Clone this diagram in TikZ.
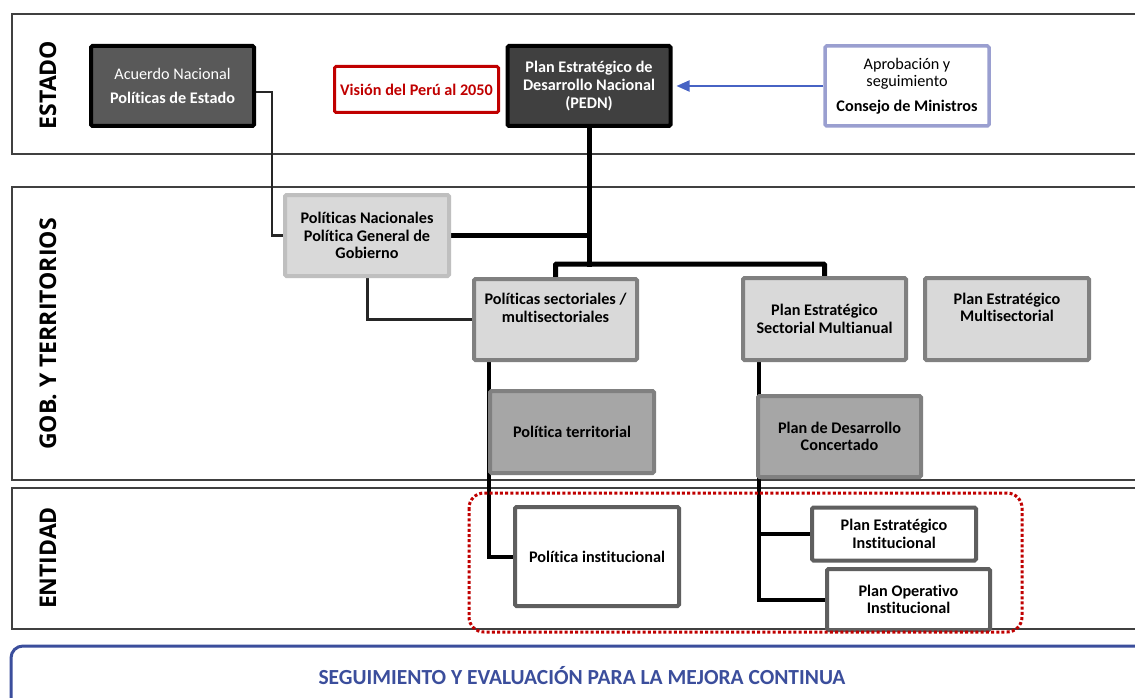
\documentclass[tikz,border=0pt]{standalone}
\usepackage{fontspec}
\setmainfont{Carlito}[Ligatures=NoCommon]
\newfontfamily\lanefont{Open Sans}
\usetikzlibrary{calc,arrows.meta}
\pgfdeclarelayer{lanes}
\pgfdeclarelayer{links}
\pgfsetlayers{lanes,links,main}

\definecolor{laneline}{HTML}{404040}
\definecolor{acuerdofill}{HTML}{595959}
\definecolor{pednfill}{HTML}{404040}
\definecolor{visionred}{HTML}{C00000}
\definecolor{consejoedge}{HTML}{9A9FD0}
\definecolor{arrowblue}{HTML}{4763C4}
\definecolor{lightfill}{HTML}{D9D9D9}
\definecolor{lightedge}{HTML}{BFBFBF}
\definecolor{midfill}{HTML}{A6A6A6}
\definecolor{midedge}{HTML}{808080}
\definecolor{whiteedge}{HTML}{5F5F5F}
\definecolor{bandblue}{HTML}{3B4E9C}
\definecolor{linkdark}{HTML}{262626}

\newcommand{\boxfont}{\fontsize{16.2}{17.6}\selectfont}

\tikzset{
  box/.style={rectangle, rounded corners=1.5pt, line width=4pt, align=center,
    inner sep=0pt, font=\boxfont},
  darkbox/.style={box, draw=black, text=white},
  greybox/.style={box, draw=lightedge, fill=lightfill, font=\boxfont\bfseries},
  sectbox/.style={box, draw=midedge, fill=lightfill, font=\boxfont\bfseries},
  terrbox/.style={box, draw=midedge, fill=midfill, font=\boxfont\bfseries},
  entbox/.style={box, draw=whiteedge, fill=white, font=\boxfont\bfseries},
  lane/.style={draw=laneline, line width=1.5pt, fill=white},
  lanelabel/.style={rotate=90, font=\lanefont\bfseries\fontsize{23}{26}\selectfont},
  tree/.style={draw=black, line width=5pt},
  thinlink/.style={draw=linkdark, line width=3pt},
  branch/.style={draw=black, line width=4pt}
}

\begin{document}
\begin{tikzpicture}[x=1pt,y=-1pt]
\clip (0,0) rectangle (1135,698);

% ---- swim lanes -------------------------------------------------------
\begin{pgfonlayer}{lanes}
  \fill[white] (0,0) rectangle (1135,698);
  \draw[lane] (12,14) rectangle (1150,154);
  \draw[lane] (12,187) rectangle (1150,480);
  \draw[lane] (12,488) rectangle (1150,629);
\end{pgfonlayer}
\node[lanelabel] (lestado) at (48,85) {ESTADO};
\node[lanelabel] (lgob) at (48,334) {GOB. Y TERRITORIOS};
\node[lanelabel] (lentidad) at (48,558) {ENTIDAD};

% ---- Estado ------------------------------------------------------------
\node[darkbox, fill=acuerdofill, minimum width=163, minimum height=80]
  (acuerdo) at (172.5,86) {Acuerdo Nacional\\[7pt]\textbf{Políticas de Estado}};
\node[box, draw=visionred, line width=3pt, fill=white, text=visionred,
  font=\boxfont\bfseries, minimum width=164, minimum height=46]
  (vision) at (416.5,89.5) {Visión del Perú al 2050};
\node[darkbox, fill=pednfill, font=\boxfont\bfseries, minimum width=163, minimum height=80]
  (pedn) at (589,86) {Plan Estratégico de\\Desarrollo Nacional\\(PEDN)};
\node[box, draw=consejoedge, line width=3.5pt, fill=white, minimum width=164, minimum height=80]
  (consejo) at (907,86) {Aprobación y\\seguimiento\\[7pt]\textbf{Consejo de Ministros}};

% ---- Gobierno y territorios --------------------------------------------
\node[greybox, minimum width=164, minimum height=81]
  (polnac) at (367,235.5) {Políticas Nacionales\\Política General de\\Gobierno};
\node[sectbox, minimum width=163, minimum height=81]
  (polsect) at (555.5,319.5) {Políticas sectoriales /\\multisectoriales\\[6pt]};
\node[terrbox, minimum width=164, minimum height=82]
  (polterr) at (572,432) {Política territorial};
\node[sectbox, minimum width=163, minimum height=82]
  (pesm) at (824.5,319) {Plan Estratégico\\Sectorial Multianual};
\node[sectbox, minimum width=164, minimum height=82]
  (pems) at (1007,319) {Plan Estratégico\\Multisectorial\\[6pt]};
\node[terrbox, minimum width=163, minimum height=81]
  (pdc) at (839.5,436.5) {Plan de Desarrollo\\Concertado};

% ---- Entidad -------------------------------------------------------------
\node[entbox, minimum width=164, minimum height=99]
  (polinst) at (597,556.5) {Política institucional};
\node[entbox, minimum width=164, minimum height=53]
  (pei) at (894,534) {Plan Estratégico\\Institucional};
\node[entbox, minimum width=163, minimum height=61]
  (poi) at (908.5,599.5) {Plan Operativo\\Institucional};

% ---- connectors ----------------------------------------------------------
\begin{pgfonlayer}{links}
  \coordinate (fork) at ($(pedn.south)+(0,136)$);
  \draw[tree, line cap=rect] (pedn.south) -- (fork);
  \draw[tree] (polnac.east) -- (polnac.east -| pedn.south);
  \draw[tree, rounded corners=1pt] (polsect.north) -- (polsect.north |- fork)
    -- (pesm.north |- fork) -- (pesm.north);
  \draw[thinlink, line width=2.5pt] ($(acuerdo.east)+(0,6)$) -| ($(polnac.west)+(-11,0)$)
    -- (polnac.west);
  \draw[thinlink] (polnac.south) |- (polsect.west);
  \draw[branch] ([xshift=17pt]polsect.south west) |- (polinst.west);
  \draw[branch] ([xshift=18pt]pesm.south west) |- (poi.west);
  \draw[branch] ([xshift=18pt]pesm.south west |- pei.west) -- (pei.west);
\end{pgfonlayer}
\draw[draw=arrowblue, line width=2pt, -{Triangle[length=13pt,width=11pt]}]
  (consejo.west) -- ([xshift=4pt]pedn.east);

% ---- grouping of the institutional plans ----------------------------------
\draw[draw=visionred, line width=3pt, dash pattern=on 3pt off 2.2pt, rounded corners=15pt]
  (469,493) rectangle (1022,632);

% ---- follow-up band ---------------------------------------------------------
\draw[draw=bandblue, line width=3pt, rounded corners=12pt] (11,646) rectangle (1165,730);
\node[text=bandblue, font=\fontsize{21.5}{24}\selectfont\bfseries] (band) at (582,676)
  {SEGUIMIENTO Y EVALUACIÓN PARA LA MEJORA CONTINUA};
\end{tikzpicture}
\end{document}
